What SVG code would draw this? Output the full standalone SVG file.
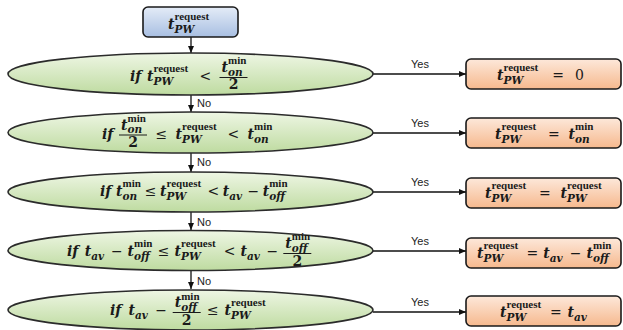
<svg xmlns="http://www.w3.org/2000/svg" width="623" height="330" viewBox="0 0 623 330">
<defs>
<linearGradient id="gG" x1="0" y1="0" x2="0" y2="1"><stop offset="0" stop-color="#eef6e4"/><stop offset="1" stop-color="#bedba0"/></linearGradient>
<linearGradient id="gO" x1="0" y1="0" x2="0" y2="1"><stop offset="0" stop-color="#fde8da"/><stop offset="1" stop-color="#f6b98e"/></linearGradient>
<linearGradient id="gB" x1="0" y1="0" x2="0" y2="1"><stop offset="0" stop-color="#e4ecf7"/><stop offset="1" stop-color="#a8bfe2"/></linearGradient>
<marker id="ah" markerWidth="8" markerHeight="8" refX="7" refY="4" orient="auto" markerUnits="userSpaceOnUse"><path d="M0,1 L7,4 L0,7 Z" fill="#111"/></marker>
</defs>
<style>
.ell{fill:url(#gG);stroke:#2b2b2b;stroke-width:1.6}
.box{fill:url(#gO);stroke:#1a1a1a;stroke-width:1.6}
.top{fill:url(#gB);stroke:#1a1a1a;stroke-width:1.6}
.m{font-family:"DejaVu Serif",serif;font-style:italic;font-weight:bold;font-size:14px;fill:#1a1a1a}
.sp{font-family:"Liberation Serif",serif;font-style:normal;font-weight:bold;font-size:11px}
.sb{font-size:10.5px}
.op{font-style:normal;font-weight:normal}
.nm{font-style:normal}
.lbl{font-family:"Liberation Sans",Arial,sans-serif;font-size:11px;fill:#222}
.ln{stroke:#111;stroke-width:1.3;fill:none}
.fr{stroke:#1a1a1a;stroke-width:1}
</style>
<g id="connectors">
<line class="ln" x1="191" y1="37" x2="191" y2="53" marker-end="url(#ah)"/>
<line class="ln" x1="191" y1="95" x2="191" y2="112" marker-end="url(#ah)"/>
<line class="ln" x1="191" y1="153" x2="191" y2="172" marker-end="url(#ah)"/>
<line class="ln" x1="191" y1="212" x2="191" y2="230" marker-end="url(#ah)"/>
<line class="ln" x1="191" y1="271" x2="191" y2="289" marker-end="url(#ah)"/>
<text class="lbl" x="197" y="107">No</text>
<text class="lbl" x="197" y="166">No</text>
<text class="lbl" x="197" y="226">No</text>
<text class="lbl" x="197" y="285">No</text>
<line class="ln" x1="373" y1="74" x2="466" y2="74" marker-end="url(#ah)"/>
<line class="ln" x1="373" y1="133" x2="466" y2="133" marker-end="url(#ah)"/>
<line class="ln" x1="373" y1="192" x2="466" y2="192" marker-end="url(#ah)"/>
<line class="ln" x1="373" y1="251" x2="466" y2="251" marker-end="url(#ah)"/>
<line class="ln" x1="373" y1="312" x2="466" y2="312" marker-end="url(#ah)"/>
<text class="lbl" x="420" y="68" text-anchor="middle">Yes</text>
<text class="lbl" x="420" y="127" text-anchor="middle">Yes</text>
<text class="lbl" x="420" y="186" text-anchor="middle">Yes</text>
<text class="lbl" x="420" y="245" text-anchor="middle">Yes</text>
<text class="lbl" x="420" y="306" text-anchor="middle">Yes</text>
</g>
<g id="start">
<rect class="top" x="143" y="7" width="95" height="30" rx="5"/>
<text class="m"><tspan x="168" y="29">t</tspan><tspan class="sp" x="174.5" y="20">request</tspan><tspan class="sb" x="174.5" y="33">PW</tspan></text>
</g>
<g id="cond1">
<ellipse class="ell" cx="190.5" cy="74" rx="182.5" ry="21"/>
<text class="m"><tspan x="130" y="81">if</tspan><tspan x="147" y="81">t</tspan><tspan class="sp" x="153.5" y="72">request</tspan><tspan class="sb" x="153.5" y="85">PW</tspan><tspan class="op" x="199.5" y="81">&lt;</tspan><tspan x="221.5" y="72">t</tspan><tspan class="sp" x="228" y="64">min</tspan><tspan class="sb" x="228" y="75.5">on</tspan><tspan class="nm" x="233.5" y="89" text-anchor="middle">2</tspan></text>
<line class="fr" x1="219.5" y1="77.5" x2="247.5" y2="77.5"/>
</g>
<g id="cond2">
<ellipse class="ell" cx="190.5" cy="132.5" rx="182.5" ry="20.5"/>
<text class="m"><tspan x="102" y="139">if</tspan><tspan x="121" y="129.5">t</tspan><tspan class="sp" x="127.5" y="121.5">min</tspan><tspan class="sb" x="127.5" y="133">on</tspan><tspan class="nm" x="133" y="147" text-anchor="middle">2</tspan><tspan class="op" x="155.5" y="139">≤</tspan><tspan x="175.5" y="139">t</tspan><tspan class="sp" x="182" y="130">request</tspan><tspan class="sb" x="182" y="143">PW</tspan><tspan class="op" x="227.5" y="139">&lt;</tspan><tspan x="247.5" y="139">t</tspan><tspan class="sp" x="254" y="130">min</tspan><tspan class="sb" x="254" y="143">on</tspan></text>
<line class="fr" x1="119" y1="135" x2="147" y2="135"/>
</g>
<g id="cond3">
<ellipse class="ell" cx="190.5" cy="192" rx="182.5" ry="20"/>
<text class="m"><tspan x="100" y="196">if</tspan><tspan x="116" y="196">t</tspan><tspan class="sp" x="122.5" y="187">min</tspan><tspan class="sb" x="122.5" y="200">on</tspan><tspan class="op" x="144.7" y="196">≤</tspan><tspan x="160" y="196">t</tspan><tspan class="sp" x="166.5" y="187">request</tspan><tspan class="sb" x="166.5" y="200">PW</tspan><tspan class="op" x="207.6" y="196">&lt;</tspan><tspan x="222.8" y="196">t</tspan><tspan class="sb" x="229.3" y="200">av</tspan><tspan class="op" x="247.5" y="196">−</tspan><tspan x="262.7" y="196">t</tspan><tspan class="sp" x="269.2" y="187">min</tspan><tspan class="sb" x="269.2" y="200">off</tspan></text>
</g>
<g id="cond4">
<ellipse class="ell" cx="190.5" cy="250.5" rx="182.5" ry="20"/>
<text class="m"><tspan x="67" y="256">if</tspan><tspan x="84.7" y="256">t</tspan><tspan class="sb" x="91.2" y="260">av</tspan><tspan class="op" x="110.9" y="256">−</tspan><tspan x="127.6" y="256">t</tspan><tspan class="sp" x="134.1" y="247">min</tspan><tspan class="sb" x="134.1" y="260">off</tspan><tspan class="op" x="157.8" y="256">≤</tspan><tspan x="174.5" y="256">t</tspan><tspan class="sp" x="181" y="247">request</tspan><tspan class="sb" x="181" y="260">PW</tspan><tspan class="op" x="223.7" y="256">&lt;</tspan><tspan x="240.4" y="256">t</tspan><tspan class="sb" x="246.9" y="260">av</tspan><tspan class="op" x="266.6" y="256">−</tspan><tspan x="285.3" y="248">t</tspan><tspan class="sp" x="291.8" y="240">min</tspan><tspan class="sb" x="291.8" y="251.5">off</tspan><tspan class="nm" x="297.3" y="266" text-anchor="middle">2</tspan></text>
<line class="fr" x1="283.3" y1="253.5" x2="311.3" y2="253.5"/>
</g>
<g id="cond5">
<ellipse class="ell" cx="190.5" cy="310" rx="182.5" ry="20"/>
<text class="m"><tspan x="110" y="315">if</tspan><tspan x="128.4" y="315">t</tspan><tspan class="sb" x="134.9" y="319">av</tspan><tspan class="op" x="155.3" y="315">−</tspan><tspan x="174.7" y="307">t</tspan><tspan class="sp" x="181.2" y="299.5">min</tspan><tspan class="sb" x="181.2" y="310.5">off</tspan><tspan class="nm" x="186.7" y="325" text-anchor="middle">2</tspan><tspan class="op" x="207.1" y="315">≤</tspan><tspan x="224.5" y="315">t</tspan><tspan class="sp" x="231" y="306">request</tspan><tspan class="sb" x="231" y="319">PW</tspan></text>
<line class="fr" x1="172.7" y1="312.5" x2="200.7" y2="312.5"/>
</g>
<g id="res1">
<rect class="box" x="466" y="59" width="155" height="30" rx="5"/>
<text class="m"><tspan x="497" y="80">t</tspan><tspan class="sp" x="503.5" y="71">request</tspan><tspan class="sb" x="503.5" y="84">PW</tspan><tspan class="op" x="552.3" y="80">=</tspan><tspan class="op" x="575" y="80">0</tspan></text>
</g>
<g id="res2">
<rect class="box" x="466" y="118" width="155" height="30" rx="5"/>
<text class="m"><tspan x="495" y="139">t</tspan><tspan class="sp" x="501.5" y="130">request</tspan><tspan class="sb" x="501.5" y="143">PW</tspan><tspan class="op" x="548" y="139">=</tspan><tspan x="568.5" y="139">t</tspan><tspan class="sp" x="575" y="130">min</tspan><tspan class="sb" x="575" y="143">on</tspan></text>
</g>
<g id="res3">
<rect class="box" x="466" y="178" width="155" height="30" rx="5"/>
<text class="m"><tspan x="485" y="198">t</tspan><tspan class="sp" x="491.5" y="189">request</tspan><tspan class="sb" x="491.5" y="202">PW</tspan><tspan class="op" x="539" y="198">=</tspan><tspan x="560.5" y="198">t</tspan><tspan class="sp" x="567" y="189">request</tspan><tspan class="sb" x="567" y="202">PW</tspan></text>
</g>
<g id="res4">
<rect class="box" x="466" y="238" width="155" height="30" rx="5"/>
<text class="m"><tspan x="477" y="258">t</tspan><tspan class="sp" x="483.5" y="249">request</tspan><tspan class="sb" x="483.5" y="262">PW</tspan><tspan class="op" x="526.4" y="258">=</tspan><tspan x="543.3" y="258">t</tspan><tspan class="sb" x="549.8" y="262">av</tspan><tspan class="op" x="569.7" y="258">−</tspan><tspan x="586.6" y="258">t</tspan><tspan class="sp" x="593.1" y="249">min</tspan><tspan class="sb" x="593.1" y="262">off</tspan></text>
</g>
<g id="res5">
<rect class="box" x="466" y="296" width="155" height="30" rx="5"/>
<text class="m"><tspan x="500" y="317">t</tspan><tspan class="sp" x="506.5" y="308">request</tspan><tspan class="sb" x="506.5" y="321">PW</tspan><tspan class="op" x="550" y="317">=</tspan><tspan x="567.5" y="317">t</tspan><tspan class="sb" x="574" y="321">av</tspan></text>
</g>
</svg>
